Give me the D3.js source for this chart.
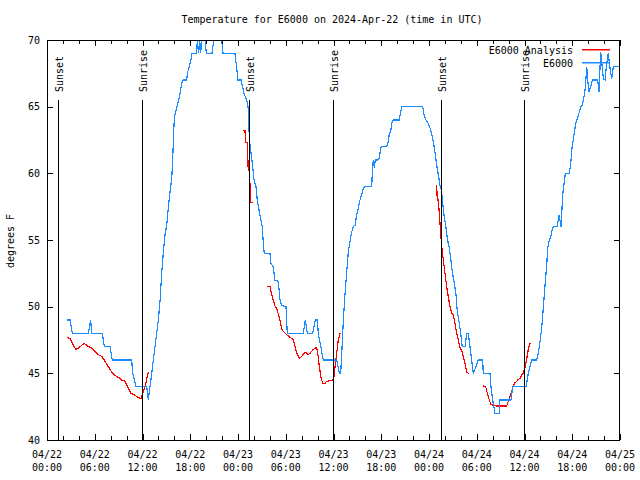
<!DOCTYPE html>
<html>
<head>
<meta charset="utf-8">
<script src="https://cdn.jsdelivr.net/npm/d3@7"></script>
<style>
  html, body { margin: 0; padding: 0; background: #fff; }
  svg { display: block; }
  text { font-family: "DejaVu Sans Mono", monospace; font-size: 10px; fill: #000; }
</style>
</head>
<body>
<svg id="chart" width="640" height="480"></svg>
<script>
// ---------------- data (hours since 2024-04-22 00:00 UTC, degrees F) ----------------
const titleText = "Temperature for E6000 on 2024-Apr-22 (time in UTC)";
const yLabel = "degrees F";
const yTicks = [40, 45, 50, 55, 60, 65, 70];
const sunNames = ["Sunset", "Sunrise", "Sunset", "Sunrise", "Sunset", "Sunrise"];
const sunHours = [1.35, 11.92, 25.42, 35.95, 49.55, 59.95];
const legendNames = ["E6000 Analysis", "E6000"];

const e6000 = [
  [2.55,49],[2.89,49],[3.18,48],[5.19,48],[5.49,49],[5.62,48],[6.95,48],[7.20,47],[7.92,47],[8.21,46],
  [10.64,46],[10.77,45],[11.18,44],[12.53,44],[12.73,43],[12.94,44],[13.16,45],[13.36,46],[13.57,47],
  [13.78,48],[13.99,49],[14.20,50.4],[14.41,52.5],[14.61,54],[14.83,55.4],[15.04,56.1],[15.24,57.4],
  [15.46,58.6],[15.67,59.6],[15.79,61],[15.87,62.3],[16.00,64.2],[16.17,64.6],[16.37,65.1],[16.59,65.6],
  [16.75,66.1],[16.93,66.75],[17.13,67],[17.55,67],[17.68,67.6],[17.88,68],[18.09,68.5],[18.18,69],
  [18.81,69],[18.89,70],[19.06,69],[19.19,70],[19.31,69],[19.44,70],[19.85,70],[20.02,69],[20.73,69],
  [20.95,70],[21.95,70],[22.12,69],[23.62,69],[24.00,67],[24.38,67],[24.75,66],[25.09,65.5],[25.26,65],
  [25.35,64],[25.43,62.5],[25.64,61.5],[25.85,60.5],[26.01,59.5],[26.26,59],[26.42,58],[26.64,57.25],
  [26.85,56.6],[27.05,56],[27.18,54.75],[27.30,54],[28.02,54],[28.11,53.25],[28.44,53],[28.61,52],
  [29.06,51.9],[29.28,50.5],[29.49,50.1],[30.03,50],[30.19,48],[32.21,48],[32.46,49],[32.71,48],
  [33.39,48],[33.71,49],[33.96,49],[34.09,48],[34.72,46],[36.40,46],[36.73,45],[36.90,45],[37.03,46.4],
  [37.23,48.9],[37.44,50.9],[37.66,52.6],[37.86,54.1],[38.07,54.9],[38.29,55.6],[38.49,56],[38.70,56.1],
  [38.92,56.9],[39.12,57.4],[39.33,58],[39.54,58.4],[39.74,58.9],[39.96,59],[40.80,59],[40.88,60.1],
  [41.00,61],[41.13,60.4],[41.25,61],[41.50,61],[41.75,61.1],[41.93,61.9],[42.06,62],[42.68,62],
  [42.89,62.4],[43.01,63],[43.19,63.1],[43.31,63.75],[43.51,64],[44.27,64],[44.44,64.6],[44.57,65],
  [47.21,65],[47.37,64.4],[47.62,64],[47.91,63.75],[48.13,63.4],[48.34,62.9],[48.54,62.4],[48.75,61.6],
  [48.97,60.6],[49.17,59.9],[49.38,59.1],[49.51,58.9],[49.67,58.1],[49.88,56.9],[50.14,55.9],[50.30,55.1],
  [50.55,54.4],[50.73,53.6],[50.93,52.6],[51.14,51.9],[51.39,50.9],[51.56,49.6],[51.77,48.9],[51.98,48],
  [52.18,47],[52.52,47],[52.74,48],[52.94,48],[53.15,47],[53.36,46],[53.56,45],[53.91,45.5],[54.19,46],
  [54.75,46],[54.82,45],[55.66,45],[55.79,44],[56.00,43],[56.29,42],[56.83,42],[56.92,43],[58.30,43],
  [58.52,44],[60.19,44],[60.48,45],[60.90,46],[61.53,46],[61.73,46.5],[61.95,47.4],[62.16,48.4],
  [62.36,49.9],[62.58,51.6],[62.79,53.1],[62.91,54.4],[63.08,54.9],[63.29,55.25],[63.54,55.9],[63.71,56],
  [64.12,56],[64.34,56.9],[64.46,56.5],[64.59,56],[64.80,58.4],[65.00,59.4],[65.13,60],[65.63,60],
  [65.81,60.75],[65.97,61.9],[66.22,62.9],[66.43,63.75],[66.63,64.1],[66.89,64.6],[67.06,65],[67.26,65.1],
  [67.48,65.75],[67.64,66.4],[67.82,68],[67.94,67],[68.11,66.1],[68.32,66.5],[68.52,67],[69.20,67],
  [69.36,66.1],[69.57,69.1],[69.70,68.4],[69.91,67.1],[70.11,67],[70.33,68.25],[70.53,69],[70.74,67.9],
  [70.95,67.1],[71.16,68],[72.00,68]
];

const analysis1 = [
  [2.55,47.7],[2.89,47.6],[3.18,47.25],[3.61,46.8],[3.93,46.9],[4.36,47.1],[4.69,47.25],[5.19,47.0],
  [5.62,46.9],[6.03,46.65],[6.45,46.4],[6.87,46.28],[7.29,45.9],[7.70,45.5],[8.13,45.1],[8.54,44.85],
  [8.96,44.7],[9.39,44.5],[9.80,44.4],[10.22,43.9],[10.56,43.5],[11.06,43.35],[11.47,43.2],[11.81,43.1],
  [12.10,43.6],[12.40,44.2],[12.73,45.1]
];
const analysis2 = [
  [24.67,63.2],[24.88,63.2],[24.97,62.3],[25.17,62.3],[25.29,60.2],[25.42,60.2],[25.51,59.1],[25.60,57.8],[25.85,57.8]
];
const analysis3 = [
  [27.68,51.5],[28.02,51.5],[28.24,50.9],[28.44,50.45],[28.65,50.05],[28.86,49.9],[29.06,49.45],[29.28,48.95],
  [29.49,48.3],[29.78,48.1],[30.12,47.9],[30.53,47.7],[30.95,47.55],[31.16,47.0],[31.38,46.55],[31.70,46.15],
  [32.00,46.25],[32.29,46.5],[32.54,46.6],[32.83,46.4],[33.05,46.5],[33.39,46.75],[33.68,46.9],[33.89,46.9],
  [34.09,46.2],[34.22,45.5],[34.43,44.7],[34.64,44.25],[34.93,44.25],[35.15,44.4],[35.56,44.45],[35.90,44.5],
  [36.06,44.75],[36.19,45.5],[36.40,46.5],[36.60,47.5],[36.82,48]
];
const analysis4 = [
  [48.84,59.05],[48.97,59.05],[49.04,58],[49.17,58],[49.29,57],[49.38,56.25],[49.47,55.5],[49.60,54.5],
  [49.80,53.5],[50.01,52.5],[50.22,51.5],[50.42,50.75],[50.64,50],[50.85,49.5],[51.05,49.4],[51.27,48.75],
  [51.48,48],[51.68,47.5],[51.90,46.9],[52.11,46.75],[52.31,46.25],[52.52,45.75],[52.74,45.1],[52.94,45],[53.06,45]
];
const analysis5 = [
  [54.82,44.05],[55.12,44.0],[55.33,43.5],[55.58,43.0],[55.75,42.7],[56.08,42.6],[56.51,42.55],[57.76,42.55],
  [57.96,42.9],[58.18,43.25],[58.39,43.6],[58.59,44.1],[58.81,44.3],[59.02,44.4],[59.22,44.55],[59.43,44.6],
  [59.65,44.9],[59.85,45.0],[60.06,45.45],[60.28,46.1],[60.48,46.8],[60.69,47.25],[60.82,47.25]
];
const analysisSegments = [analysis1, analysis2, analysis3, analysis4, analysis5];

// ---------------- layout ----------------
const W = 640, H = 480;
const L = 47, R = 620, T = 40, B = 440;
const BLUE = "#1a8cff", RED = "#ff0000";
const t0 = Date.UTC(2024, 3, 22);
const toDate = h => new Date(t0 + h * 3600e3);

const svg = d3.select("#chart");
const x = d3.scaleUtc().domain([new Date(t0), new Date(Date.UTC(2024, 3, 25))]).range([L, R]);
const y = d3.scaleLinear().domain([40, 70]).range([B, T]);

svg.append("defs").append("clipPath").attr("id", "plotclip")
  .append("rect").attr("x", L).attr("y", T).attr("width", R - L).attr("height", B - T);

// data lines
const line = d3.line().x(d => x(toDate(d[0]))).y(d => y(d[1]));
const plot = svg.append("g").attr("clip-path", "url(#plotclip)");
analysisSegments.forEach(seg => {
  plot.append("path").attr("d", line(seg)).attr("fill", "none")
    .attr("stroke", RED).attr("stroke-width", 1.2).attr("shape-rendering", "crispEdges");
});
plot.append("path").attr("d", line(e6000)).attr("fill", "none")
  .attr("stroke", BLUE).attr("stroke-width", 1.2).attr("shape-rendering", "crispEdges");

// sun lines
const sunG = svg.append("g");
sunHours.forEach((h, i) => {
  const xp = Math.round(x(toDate(h))) + 0.5;
  sunG.append("line").attr("x1", xp).attr("x2", xp).attr("y1", 100).attr("y2", B)
    .attr("stroke", "#000").attr("stroke-width", 1).attr("shape-rendering", "crispEdges");
  sunG.append("text").attr("transform", `translate(${xp + 4.5},92) rotate(-90)`)
    .attr("text-anchor", "start").text(sunNames[i]);
});

// axes
function styleAxis(g) {
  g.select(".domain").remove();
  g.selectAll(".tick line").attr("stroke", "#000").attr("shape-rendering", "crispEdges");
  g.selectAll("text").remove();
}
const major = d3.utcHour.every(6), minor = d3.utcHour.every(2);
svg.append("g").attr("transform", `translate(0,${B})`)
  .call(d3.axisBottom(x).ticks(minor).tickSize(-4).tickFormat("")).call(styleAxis);
svg.append("g").attr("transform", `translate(0,${B})`)
  .call(d3.axisBottom(x).ticks(major).tickSize(-6).tickFormat("")).call(styleAxis);
svg.append("g").attr("transform", `translate(0,${T})`)
  .call(d3.axisTop(x).ticks(minor).tickSize(-4).tickFormat("")).call(styleAxis);
svg.append("g").attr("transform", `translate(0,${T})`)
  .call(d3.axisTop(x).ticks(major).tickSize(-6).tickFormat("")).call(styleAxis);
svg.append("g").attr("transform", `translate(${L},0)`)
  .call(d3.axisLeft(y).tickValues(yTicks).tickSize(-6).tickFormat("")).call(styleAxis);
svg.append("g").attr("transform", `translate(${R},0)`)
  .call(d3.axisRight(y).tickValues(yTicks).tickSize(-6).tickFormat("")).call(styleAxis);

// tick labels
const fmtDate = d3.utcFormat("%m/%d"), fmtTime = d3.utcFormat("%H:%M");
x.ticks(major).forEach(d => {
  const xp = x(d);
  svg.append("text").attr("x", xp).attr("y", 458).attr("text-anchor", "middle").text(fmtDate(d));
  svg.append("text").attr("x", xp).attr("y", 471).attr("text-anchor", "middle").text(fmtTime(d));
});
yTicks.forEach(v => {
  svg.append("text").attr("x", 40).attr("y", y(v) + 3.5).attr("text-anchor", "end").text(v);
});

// border
svg.append("rect").attr("x", L + 0.5).attr("y", T + 0.5).attr("width", R - L - 1).attr("height", B - T)
  .attr("fill", "none").attr("stroke", "#000").attr("shape-rendering", "crispEdges");

// title and y label
svg.append("text").attr("x", 332).attr("y", 23).attr("text-anchor", "middle").text(titleText);
svg.append("text").attr("transform", "translate(14,241) rotate(-90)").attr("text-anchor", "middle").text(yLabel);

// legend
const legColors = [RED, BLUE];
const legend = svg.append("g").attr("class", "legend");
legendNames.forEach((n, i) => {
  const ly = 50 + i * 13;
  legend.append("text").attr("x", 573).attr("y", ly + 3.5).attr("text-anchor", "end").text(n);
  legend.append("rect").attr("x", 582).attr("y", ly - 1).attr("width", 28).attr("height", 1.5)
    .style("fill", legColors[i]).style("stroke", "none");
});
</script>
</body>
</html>
